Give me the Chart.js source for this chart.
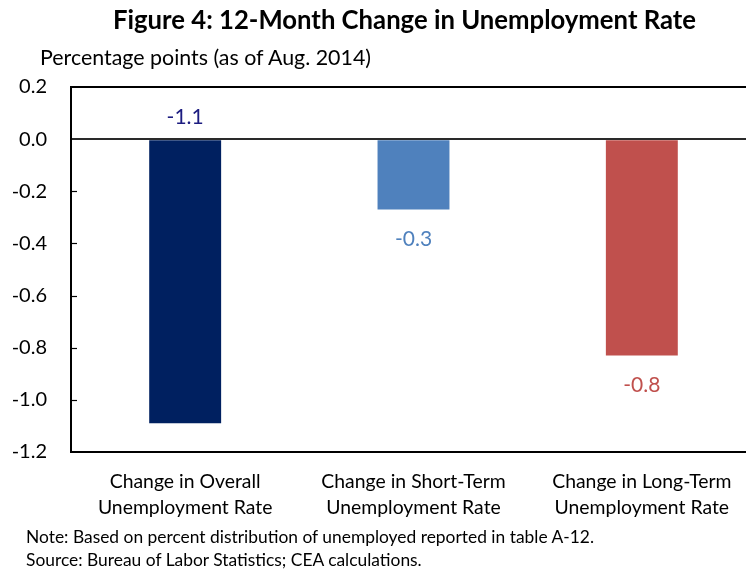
<!DOCTYPE html>
<html>
<head>
<meta charset="utf-8">
<script src="https://cdn.jsdelivr.net/npm/chart.js@4.4.0/dist/chart.umd.min.js"></script>
<style>
  html, body { margin: 0; padding: 0; background: #fff; overflow: hidden; width: 746px; height: 571px; }
  #wrap { position: relative; width: 746px; height: 571px; overflow: hidden; }
  canvas { position: absolute; left: 0; top: 0; }
  .txt { position: absolute; white-space: nowrap; font-family: Lato, "Open Sans", sans-serif; color: #000; }
  #title { left: 113px; top: 4px; font-size: 25.7px; font-weight: bold; line-height: 30px; }
  #sub { left: 40px; top: 44px; font-size: 21.4px; line-height: 26px; }
  #note1 { left: 26px; top: 526px; font-size: 17.4px; line-height: 22px; }
  #note2 { left: 26px; top: 549px; font-size: 17.4px; line-height: 22px; }
</style>
</head>
<body>
<div id="wrap">
  <canvas id="c" width="780" height="571"></canvas>
  <div class="txt" id="title">Figure 4: 12-Month Change in Unemployment Rate</div>
  <div class="txt" id="sub">Percentage points (as of Aug. 2014)</div>
  <div class="txt" id="note1">Note: Based on percent distribution of unemployed reported in table A-12.</div>
  <div class="txt" id="note2">Source: Bureau of Labor Statistics; CEA calculations.</div>
</div>
<script>
const categories = [
  ["Change in Overall", "Unemployment Rate"],
  ["Change in Short-Term", "Unemployment Rate"],
  ["Change in Long-Term", "Unemployment Rate"]
];
const values = [-1.09, -0.27, -0.83];
const barColors = ["#002060", "#4F81BD", "#C0504D"];
const labelColors = ["#1C1C80", "#4F81BD", "#C0504D"];
const yTicks = [0.2, 0.0, -0.2, -0.4, -0.6, -0.8, -1.0, -1.2];

const FONT = 'Lato, "Open Sans", sans-serif';

const extras = {
  id: 'extras',
  afterDatasetsDraw(chart) {
    const ctx = chart.ctx;
    const y = chart.scales.y;
    const area = chart.chartArea;
    ctx.save();
    ctx.strokeStyle = '#000';
    ctx.lineWidth = 1.2;
    yTicks.forEach(v => {
      if (v === 0.2 || v === 0 || v === -1.2) return;
      const py = Math.round(y.getPixelForValue(v)) + 0.5;
      ctx.beginPath();
      ctx.moveTo(area.left, py);
      ctx.lineTo(area.left + 6, py);
      ctx.stroke();
    });
    const meta = chart.getDatasetMeta(0);
    ctx.font = '21px ' + FONT;
    ctx.textAlign = 'center';
    ctx.textBaseline = 'middle';
    meta.data.forEach((bar, i) => {
      const v = values[i];
      let ly = bar.y + 30;
      if (ly > area.bottom - 12) ly = y.getPixelForValue(0) - 22;
      ctx.fillStyle = labelColors[i];
      ctx.fillText(v.toFixed(1), bar.x, ly);
    });
    ctx.restore();
  }
};

new Chart(document.getElementById('c'), {
  type: 'bar',
  data: {
    labels: categories,
    datasets: [{
      data: values,
      backgroundColor: barColors,
      borderWidth: 0,
      categoryPercentage: 1.0,
      barPercentage: 0.315
    }]
  },
  options: {
    responsive: false,
    animation: false,
    devicePixelRatio: 1,
    layout: { padding: { top: 87, right: 24, left: 0, bottom: 0 } },
    plugins: { legend: { display: false }, tooltip: { enabled: false }, title: { display: false } },
    scales: {
      x: {
        grid: { display: false, drawTicks: false },
        border: { display: true, color: '#000', width: 2 },
        ticks: { color: '#000', font: { family: FONT, size: 19.4, lineHeight: 1.34 }, padding: 17, maxRotation: 0, autoSkip: false },
        afterFit(scale) { scale.height = 119; }
      },
      y: {
        min: -1.2,
        max: 0.2,
        afterBuildTicks(scale) { scale.ticks = yTicks.map(v => ({ value: v })); },
        ticks: {
          color: '#000',
          font: { family: FONT, size: 20 },
          padding: 24,
          callback: v => Number(v).toFixed(1)
        },
        grid: {
          drawTicks: false,
          color: c => (Math.abs(c.tick.value - 0.2) < 1e-9 ? '#000' : (Math.abs(c.tick.value) < 1e-9 ? '#2a2a2a' : 'rgba(0,0,0,0)')),
          lineWidth: 2
        },
        border: { display: true, color: '#000', width: 2 },
        afterFit(scale) { scale.width = 71; }
      }
    }
  },
  plugins: [extras]
});
</script>
</body>
</html>
